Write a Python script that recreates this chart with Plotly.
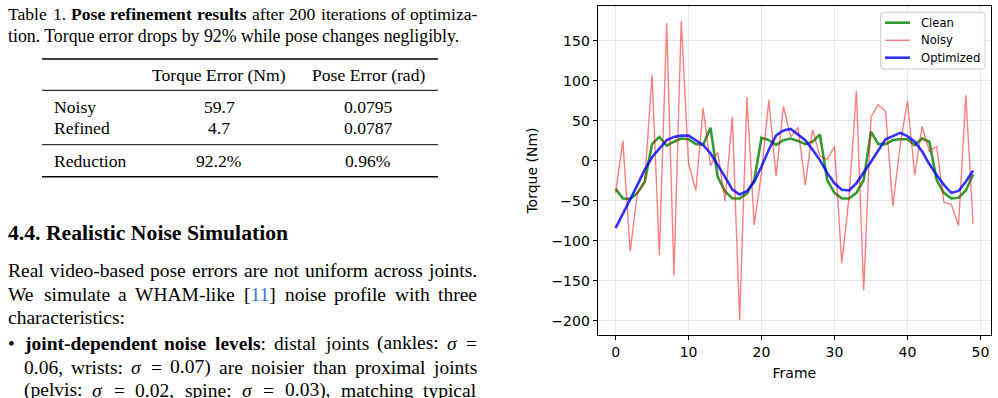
import re
import plotly.graph_objects as go

# ---------------- data ----------------
frames = list(range(50))
clean = [-35, -47, -47.5, -40, -26, 21, 30, 19, 24, 28,
         27, 21, 20, 41.6, -20, -38, -47, -47, -41, -24,
         29, 26, 20, 26, 28, 25, 21, 24, 33, -24,
         -40, -47, -47, -40, -24, 36.6, 21, 21, 26, 27,
         27, 19.6, 28, 24, -24, -40, -47, -46, -37, -17]
noisy = [-40, 25, -113, -40, -26, 108, -118, 172, -143, 175,
         -3, -37, 66, -6, 11, -50, 55, -199, 80, -80,
         -15, 76, -19, 68, 30, 42, -30, 39, 6, 2,
         18, -128, -45, 87.5, -162, 55, 70, 62, -57, 20,
         75, -18, 43, 12, 18, -52, -54, -81, 82, -79]
optimized = [-84, -65, -48, -30, -11, 4.6, 16, 26, 30, 31.6,
             31.6, 26, 20, 9.6, -5, -20, -36, -42, -38, -26,
             -7, 14, 32, 38, 40, 32.5, 26, 14, 1, -15,
             -28, -36, -37, -28, -15, -1, 13, 27, 31, 35,
             31, 24, 12, -4, -17.5, -30, -40, -37.5, -26, -12]
series_names = ["Clean", "Noisy", "Optimized"]
x_ticks = [0, 10, 20, 30, 40, 50]
y_ticks = [-200, -150, -100, -50, 0, 50, 100, 150]

table_cols = ["Torque Error (Nm)", "Pose Error (rad)"]
table_rows = ["Noisy", "Refined", "Reduction"]
table_torque = ["59.7", "4.7", "92.2%"]
table_pose = ["0.0795", "0.0787", "0.96%"]

W, H = 998, 398
colors = ["rgba(0,128,0,0.8)", "rgba(255,0,0,0.5)", "rgba(0,0,255,0.8)"]
widths = [2.6, 1.4, 2.6]

fig = go.Figure()
for name, ys, c, w in zip(series_names, [clean, noisy, optimized], colors, widths):
    fig.add_trace(go.Scatter(x=frames, y=ys, mode="lines", name=name,
                             line=dict(color=c, width=w), showlegend=False))

def px(x):
    return x / W

def py(y):
    return 1 - y / H

axis_common = dict(showline=True, linecolor="black", linewidth=1.1, mirror=True,
                   ticks="outside", ticklen=4, tickwidth=1.1, tickcolor="black",
                   showgrid=True, gridcolor="#e6e6e6", gridwidth=1, zeroline=False,
                   tickfont=dict(family="DejaVu Sans", size=14, color="black"))

fig.update_layout(
    width=W, height=H, autosize=False,
    margin=dict(l=0, r=0, t=0, b=0),
    paper_bgcolor="white", plot_bgcolor="white",
    xaxis=dict(domain=[px(597.7), px(991)], range=[-2.45, 51.45], tickvals=x_ticks,
               title=dict(text="Frame", font=dict(family="DejaVu Sans", size=14, color="black"),
                          standoff=9),
               **axis_common),
    yaxis=dict(domain=[py(335), py(6)], range=[-217.7, 193.7], tickvals=y_ticks,
               title=dict(text="Torque (Nm)", font=dict(family="DejaVu Sans", size=14, color="black"),
                          standoff=10),
               **axis_common),
    showlegend=False,
)

# ---------------- legend box (matplotlib style) ----------------
fig.add_shape(type="path", xref="paper", yref="paper",
              path=("M {a},{b} L {c},{b} Q {d},{b} {d},{e} L {d},{f} Q {d},{g} {c},{g} "
                    "L {a},{g} Q {h},{g} {h},{f} L {h},{e} Q {h},{b} {a},{b} Z").format(
                  a=px(883.7), c=px(982), d=px(985), h=px(880.7),
                  b=py(12.3), e=py(15.3), f=py(66), g=py(69)),
              line=dict(color="#cccccc", width=1), fillcolor="rgba(255,255,255,0.8)")
leg_y = [22.7, 40.3, 57.7]
for name, c, w, yy in zip(series_names, colors, widths, leg_y):
    fig.add_shape(type="line", xref="paper", yref="paper", x0=px(885), x1=px(910),
                  y0=py(yy), y1=py(yy), line=dict(color=c, width=w))
    fig.add_annotation(x=px(919.3), y=py(yy), xref="paper", yref="paper", text=name,
                       showarrow=False, xanchor="left", yanchor="middle",
                       font=dict(family="DejaVu Sans", size=11.6, color="black"))

# ---------------- paper text ----------------
SERIF = "Liberation Serif"

def text(x, y, s, size, anchor="left", color="black"):
    fig.add_annotation(x=px(x), y=py(y), xref="paper", yref="paper", text=s,
                       showarrow=False, xanchor=anchor, yanchor="middle",
                       borderpad=0, borderwidth=0,
                       font=dict(family=SERIF, size=size, color=color))

REG = {' ': 250, '(': 333, ')': 333, ',': 250, '-': 333, '.': 250, ':': 278, '=': 564,
       '[': 333, ']': 333, '%': 833, 'σ': 560, '•': 350,
       'a': 444, 'b': 500, 'c': 444, 'd': 500, 'e': 444, 'f': 333, 'g': 500, 'h': 500,
       'i': 278, 'j': 278, 'k': 500, 'l': 278, 'm': 778, 'n': 500, 'o': 500, 'p': 500,
       'q': 500, 'r': 333, 's': 389, 't': 278, 'u': 500, 'v': 500, 'w': 722, 'x': 500,
       'y': 500, 'z': 444, 'A': 722, 'H': 722, 'M': 889, 'R': 667, 'T': 611, 'W': 944,
       'N': 722, 'E': 611, 'P': 556}
BOLD = {'a': 500, 'b': 556, 'c': 444, 'd': 556, 'e': 444, 'f': 333, 'g': 500, 'h': 556,
        'i': 278, 'j': 333, 'k': 556, 'l': 278, 'm': 833, 'n': 556, 'o': 500, 'p': 556,
        'r': 444, 's': 389, 't': 333, 'u': 556, 'v': 500, 'w': 722, 'y': 500, '-': 333,
        'P': 611, ' ': 250}

def word_width(markup, size):
    total = 0
    bold = False
    for part in re.split(r"(<[^>]+>)", markup):
        if part.startswith("<"):
            if part == "<b>":
                bold = True
            elif part == "</b>":
                bold = False
            continue
        for ch in part:
            if ch.isdigit():
                total += 500
            elif bold:
                total += BOLD.get(ch, REG.get(ch, 500))
            else:
                total += REG.get(ch, 500)
    return total * size / 1000.0

def justified(x0, x1, y, words, size):
    ws = [word_width(w, size) for w in words]
    gap = (x1 - x0 - sum(ws)) / (len(words) - 1)
    x = x0
    for i, (w, ww) in enumerate(zip(words, ws)):
        if i == len(words) - 1:
            text(x1, y, w, size, "right")
        else:
            text(x, y, w, size, "left")
        x += ww + gap

cap = 17.6
body = 19.5
L0 = 8
justified(L0, 478, 14, ["Table", "1.", "<b>Pose</b>", "<b>refinement</b>", "<b>results</b>",
                        "after", "200", "iterations", "of", "optimiza-"], cap)
text(L0, 36, "tion. Torque error drops by 92% while pose changes negligibly.", 17.8)

# table rules
for yy, w in [(59, 1.6), (90.3, 1), (144.7, 1), (176.7, 1.6)]:
    fig.add_shape(type="line", xref="paper", yref="paper", x0=px(42), x1=px(438),
                  y0=py(yy), y1=py(yy), line=dict(color="black", width=w))

col_x = [219, 368]
text(col_x[0], 75, table_cols[0], cap, "center")
text(col_x[1], 75, table_cols[1], cap, "center")
row_y = [106.7, 128.3, 161]
for r, yy in enumerate(row_y):
    text(54, yy, table_rows[r], cap)
    text(col_x[0], yy, table_torque[r], cap, "center")
    text(col_x[1], yy, table_pose[r], cap, "center")

text(L0, 233, "<b>4.4. Realistic Noise Simulation</b>", 21.7)
justified(L0, 477, 270, ["Real", "video-based", "pose", "errors", "are", "not", "uniform",
                         "across", "joints."], body)
justified(L0, 477, 294, ["We", "simulate", "a", "WHAM-like",
                         "[<span style='color:#2f7fd0'>11</span>]", "noise", "profile",
                         "with", "three"], body)
text(L0, 317, "characteristics:", body)
text(L0, 343, "•", body)
justified(23.5, 477, 343, ["<b>joint-dependent</b>", "<b>noise</b>", "<b>levels</b>:",
                           "distal", "joints", "(ankles:", "<i>σ</i>", "="], body)
justified(23.5, 477, 367, ["0.06,", "wrists:", "<i>σ</i>", "=", "0.07)", "are", "noisier",
                           "than", "proximal", "joints"], body)
justified(23.5, 477, 390, ["(pelvis:", "<i>σ</i>", "=", "0.02,", "spine:", "<i>σ</i>", "=",
                           "0.03),", "matching", "typical"], body)

fig.write_html("out.html")
